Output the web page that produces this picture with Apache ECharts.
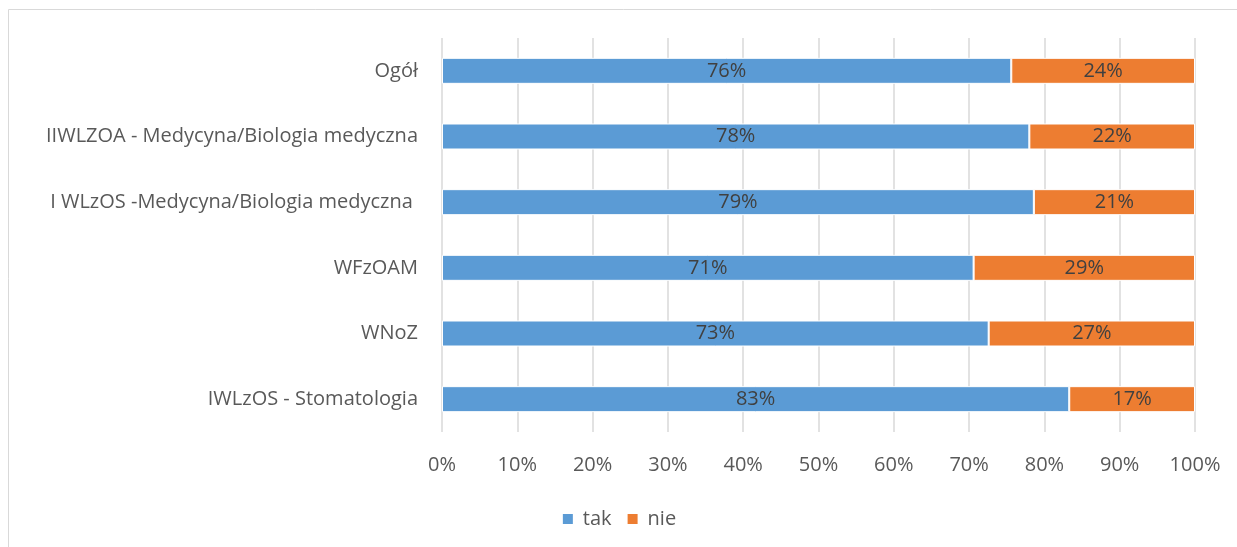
<!DOCTYPE html>
<html>
<head>
<meta charset="utf-8">
<script src="https://cdn.jsdelivr.net/npm/echarts@6/dist/echarts.min.js"></script>
<style>
  html, body { margin: 0; padding: 0; background: #fff; }
  #chart { width: 1237px; height: 547px; }
</style>
</head>
<body>
<div id="chart"></div>
<script>
// kategorie od góry do dołu
var categories = ['Ogół', 'IIWLZOA - Medycyna/Biologia medyczna', 'I WLzOS -Medycyna/Biologia medyczna ', 'WFzOAM', 'WNoZ', 'IWLzOS - Stomatologia']
var takValues = [75.6, 78.0, 78.6, 70.6, 72.6, 83.3]
var nieValues = [24.4, 22.0, 21.4, 29.4, 27.4, 16.7]
var seriesNames = ['tak', 'nie']

var font = '"Open Sans", Lato, sans-serif'
var chart = echarts.init(document.getElementById('chart'))

function barLabel (p) {
  return Math.round(p.value) + '%'
}

chart.setOption({
  animation: false,
  graphic: [{
    type: 'rect',
    shape: { x: 8.5, y: 9.5, width: 1240, height: 560 },
    style: { fill: 'none', stroke: '#d9d9d9', lineWidth: 1 },
    silent: true
  }],
  grid: { left: 442, right: 42, top: 38, bottom: 115, containLabel: false },
  legend: {
    bottom: 13,
    left: 'center',
    itemWidth: 12,
    itemHeight: 12,
    itemGap: 14,
    icon: 'rect',
    textStyle: { fontFamily: font, fontSize: 20, color: '#595959', padding: [0, 0, 0, 4] },
    data: seriesNames
  },
  xAxis: {
    type: 'value',
    min: 0,
    max: 100,
    interval: 10,
    axisLine: { show: false },
    axisTick: { show: false },
    axisLabel: {
      formatter: '{value}%',
      fontFamily: font,
      fontSize: 20,
      color: '#595959',
      margin: 23
    },
    splitLine: { lineStyle: { color: '#d9d9d9', width: 1.5 } }
  },
  yAxis: {
    type: 'category',
    inverse: true,
    data: categories,
    axisLine: { show: false },
    axisTick: { show: false },
    axisLabel: {
      fontFamily: font,
      fontSize: 20,
      color: '#595959',
      margin: 24
    }
  },
  series: [{
    name: seriesNames[0],
    type: 'bar',
    stack: 'all',
    data: takValues,
    barWidth: 26,
    itemStyle: { color: '#5b9bd5', borderColor: '#fff', borderWidth: 1 },
    label: { show: true, position: 'inside', formatter: barLabel, fontFamily: font, fontSize: 20, color: '#404040' }
  }, {
    name: seriesNames[1],
    type: 'bar',
    stack: 'all',
    data: nieValues,
    barWidth: 26,
    itemStyle: { color: '#ed7d31', borderColor: '#fff', borderWidth: 1 },
    label: { show: true, position: 'inside', formatter: barLabel, fontFamily: font, fontSize: 20, color: '#404040' }
  }]
})
</script>
</body>
</html>
